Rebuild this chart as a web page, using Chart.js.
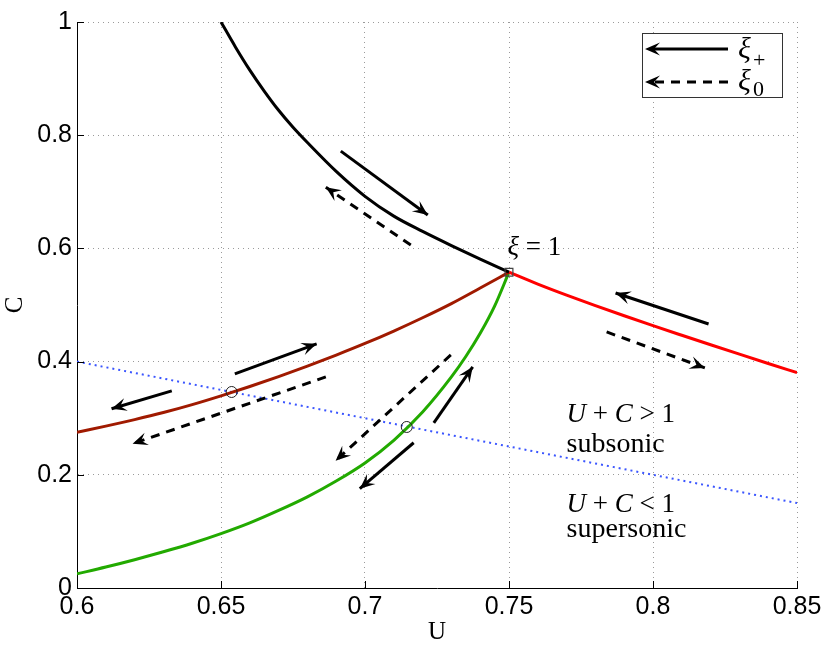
<!DOCTYPE html>
<html lang="en">
<head>
  <meta charset="UTF-8">
  <title>U-C phase plane</title>
  <script src="https://cdn.jsdelivr.net/npm/chart.js"></script>
  <style>
    body { margin: 0; background: #fff; }
    canvas { display: block; }
  </style>
</head>
<body>
  <canvas id="chart" width="830" height="653"></canvas>

  <script>
    // tick values
    const xTicks = [0.6, 0.65, 0.7, 0.75, 0.8, 0.85];
    const yTicks = [0, 0.2, 0.4, 0.6, 0.8, 1];

    // curves
    const blackU = [0.65, 0.655, 0.66, 0.665, 0.67, 0.675, 0.68, 0.69, 0.70, 0.71, 0.72, 0.73, 0.74, 0.75];
    const blackC = [1.0, 0.956, 0.915, 0.878, 0.844, 0.814, 0.787, 0.736, 0.692, 0.657, 0.630, 0.605, 0.581, 0.558];

    const redU = [0.75, 0.76, 0.77, 0.78, 0.79, 0.80, 0.81, 0.82, 0.83, 0.84, 0.85];
    const redC = [0.558, 0.537, 0.5175, 0.499, 0.481, 0.4635, 0.4465, 0.4297, 0.4131, 0.3967, 0.3805];

    const brownU = [0.6, 0.61, 0.62, 0.63, 0.64, 0.65, 0.66, 0.67, 0.68, 0.69, 0.70, 0.71, 0.72, 0.73, 0.74, 0.75];
    const brownC = [0.275, 0.286, 0.2975, 0.310, 0.324, 0.3395, 0.356, 0.3735, 0.392, 0.4115, 0.432, 0.454, 0.4775, 0.5025, 0.530, 0.558];

    const greenU = [0.6, 0.61, 0.62, 0.63, 0.64, 0.65, 0.66, 0.67, 0.68, 0.69, 0.70, 0.71, 0.72, 0.73, 0.735, 0.74, 0.745, 0.75];
    const greenC = [0.025, 0.037, 0.050, 0.064, 0.079, 0.096, 0.115, 0.137, 0.161, 0.189, 0.221, 0.261, 0.311, 0.373, 0.409, 0.450, 0.498, 0.558];

    // sonic line U + C = 1
    const sonicU = [0.6, 0.85];
    const sonicC = [0.4, 0.15];

    // arrows: [tail, head] in (U, C)
    const solidArrows = [
      [[0.6916, 0.7718], [0.7218, 0.659]],
      [[0.8193, 0.4665], [0.7870, 0.5212]],
      [[0.6548, 0.3784], [0.6832, 0.4314]],
      [[0.6329, 0.3483], [0.6120, 0.3166]],
      [[0.7239, 0.2919], [0.7374, 0.3907]],
      [[0.7169, 0.2566], [0.6982, 0.1754]]
    ];
    const dashedArrows = [
      [[0.7159, 0.606], [0.6864, 0.708]],
      [[0.7839, 0.4524], [0.8180, 0.3889]],
      [[0.6864, 0.3730], [0.6193, 0.2548]],
      [[0.7298, 0.4118], [0.6898, 0.2248]]
    ];

    // markers
    const sonicPoints = [[0.6537, 0.3463], [0.7145, 0.2845]];
    const criticalPoint = [[0.75, 0.558]];

    const toXY = (us, cs) => us.map((u, i) => ({ x: u, y: cs[i] }));

    function curve(us, cs, color, order) {
      return {
        type: 'line', data: toXY(us, cs), borderColor: color, borderWidth: 3,
        pointRadius: 0, cubicInterpolationMode: 'monotone', fill: false, order: order
      };
    }

    const datasets = [
      {
        type: 'line', data: toXY(sonicU, sonicC), borderColor: '#3a55ff', borderWidth: 2,
        borderDash: [2, 4], pointRadius: 0, fill: false, order: 9
      },
      curve(blackU, blackC, '#000000', 5),
      curve(redU, redC, '#ff0000', 5),
      curve(brownU, brownC, '#a01a00', 5),
      curve(greenU, greenC, '#22aa00', 5)
    ];

    solidArrows.forEach(a => datasets.push({
      type: 'line', data: a.map(p => ({ x: p[0], y: p[1] })), borderColor: '#000', borderWidth: 3,
      pointRadius: 0, fill: false, order: 3, arrow: true, borderCapStyle: 'butt'
    }));
    dashedArrows.forEach(a => datasets.push({
      type: 'line', data: a.map(p => ({ x: p[0], y: p[1] })), borderColor: '#000', borderWidth: 3,
      borderDash: [9, 7], pointRadius: 0, fill: false, order: 3, arrow: true, borderCapStyle: 'butt'
    }));

    datasets.push({
      type: 'scatter', data: sonicPoints.map(p => ({ x: p[0], y: p[1] })), pointStyle: 'circle',
      pointRadius: 5.5, borderColor: '#222', borderWidth: 1, backgroundColor: 'rgba(0,0,0,0)', order: 1
    });
    datasets.push({
      type: 'scatter', data: criticalPoint.map(p => ({ x: p[0], y: p[1] })), pointStyle: 'rect',
      pointRadius: 5.5, borderColor: '#444', borderWidth: 1.2, backgroundColor: 'rgba(0,0,0,0)', order: 1
    });

    const serif = '"Liberation Serif", "DejaVu Serif", serif';

    // draw a run of text pieces, italic where asked
    function drawRuns(ctx, runs, x, y, size) {
      let cx = x;
      runs.forEach(r => {
        ctx.font = (r.it ? 'italic ' : '') + size + 'px ' + serif;
        ctx.fillText(r.t, cx, y);
        cx += ctx.measureText(r.t).width;
      });
      return cx;
    }

    const decorations = {
      id: 'decorations',
      afterDatasetsDraw(chart) {
        const ctx = chart.ctx;
        const xs = chart.scales.x, ys = chart.scales.y;
        const area = chart.chartArea;

        // arrow heads at the end of each arrow dataset
        chart.data.datasets.forEach(ds => {
          if (!ds.arrow) return;
          const t = ds.data[0], h = ds.data[1];
          const tx = xs.getPixelForValue(t.x), ty = ys.getPixelForValue(t.y);
          const hx = xs.getPixelForValue(h.x), hy = ys.getPixelForValue(h.y);
          const len = Math.hypot(hx - tx, hy - ty);
          const dx = (hx - tx) / len, dy = (hy - ty) / len;
          const nx = -dy, ny = dx;
          const L = 15, W = 6.5;
          ctx.save();
          ctx.fillStyle = '#000';
          ctx.beginPath();
          ctx.moveTo(hx, hy);
          ctx.lineTo(hx - L * dx + W * nx, hy - L * dy + W * ny);
          ctx.lineTo(hx - 0.6 * L * dx, hy - 0.6 * L * dy);
          ctx.lineTo(hx - L * dx - W * nx, hy - L * dy - W * ny);
          ctx.closePath();
          ctx.fill();
          ctx.restore();
        });

        // inner tick marks
        ctx.save();
        ctx.strokeStyle = '#000';
        ctx.lineWidth = 1;
        ctx.beginPath();
        xTicks.forEach(v => {
          const px = Math.round(xs.getPixelForValue(v)) + 0.5;
          ctx.moveTo(px, area.bottom);
          ctx.lineTo(px, area.bottom - 7);
        });
        yTicks.forEach(v => {
          const py = Math.round(ys.getPixelForValue(v)) + 0.5;
          ctx.moveTo(area.left, py);
          ctx.lineTo(area.left + 7, py);
        });
        ctx.stroke();

        // text annotations
        ctx.fillStyle = '#000';
        ctx.textBaseline = 'alphabetic';
        ctx.textAlign = 'left';
        let px = xs.getPixelForValue(0.7495), py = ys.getPixelForValue(0.588);
        drawRuns(ctx, [{ t: 'ξ', it: true }, { t: ' = 1' }], px, py, 27);

        px = xs.getPixelForValue(0.77);
        drawRuns(ctx, [{ t: 'U', it: true }, { t: ' + ' }, { t: 'C', it: true }, { t: ' > 1' }], px, ys.getPixelForValue(0.294), 27);
        drawRuns(ctx, [{ t: 'subsonic' }], px, ys.getPixelForValue(0.241), 28);
        drawRuns(ctx, [{ t: 'U', it: true }, { t: ' + ' }, { t: 'C', it: true }, { t: ' < 1' }], px, ys.getPixelForValue(0.135), 27);
        drawRuns(ctx, [{ t: 'supersonic' }], px, ys.getPixelForValue(0.09), 28);

        // legend box
        const bx = area.right - 155, by = area.top + 11, bw = 140, bh = 64;
        ctx.fillStyle = '#fff';
        ctx.fillRect(bx, by, bw, bh);
        ctx.strokeStyle = '#333';
        ctx.lineWidth = 1;
        ctx.strokeRect(bx + 0.5, by + 0.5, bw, bh);

        function legendArrow(y, dashed) {
          const x0 = bx + 86, x1 = bx + 3;
          ctx.save();
          ctx.strokeStyle = '#000';
          ctx.lineWidth = 3;
          if (dashed) ctx.setLineDash([9, 7]);
          ctx.beginPath();
          ctx.moveTo(x0, y);
          ctx.lineTo(x1 + 8, y);
          ctx.stroke();
          ctx.setLineDash([]);
          ctx.fillStyle = '#000';
          ctx.beginPath();
          ctx.moveTo(x1, y);
          ctx.lineTo(x1 + 15, y - 6.5);
          ctx.lineTo(x1 + 9, y);
          ctx.lineTo(x1 + 15, y + 6.5);
          ctx.closePath();
          ctx.fill();
          ctx.restore();
        }
        legendArrow(by + 16, false);
        legendArrow(by + 49, true);

        ctx.fillStyle = '#000';
        ctx.font = 'italic 30px ' + serif;
        ctx.fillText('ξ', bx + 96, by + 25);
        ctx.fillText('ξ', bx + 96, by + 57);
        ctx.font = '22px ' + serif;
        ctx.fillText('+', bx + 111, by + 34);
        ctx.fillText('0', bx + 111, by + 63);
        ctx.restore();
      }
    };

    const sans = '"Liberation Sans", Arial, sans-serif';

    new Chart(document.getElementById('chart'), {
      data: { datasets: datasets },
      options: {
        responsive: false,
        animation: false,
        layout: { padding: { top: 22, right: 33, left: 0, bottom: 0 } },
        plugins: { legend: { display: false }, tooltip: { enabled: false } },
        scales: {
          x: {
            type: 'linear', min: 0.6, max: 0.85,
            afterBuildTicks: s => { s.ticks = xTicks.map(v => ({ value: v })); },
            afterFit: s => { s.height = 65; },
            ticks: { font: { family: sans, size: 25 }, color: '#000', padding: 4, callback: v => String(v) },
            grid: { drawTicks: false, color: '#9a9a9a', lineWidth: 1 },
            border: { display: true, color: '#000', width: 1, dash: [1, 4] },
            title: { display: true, text: 'U', font: { family: serif, size: 25 }, color: '#000', padding: { top: 0, bottom: 6 } }
          },
          y: {
            type: 'linear', min: 0, max: 1,
            afterBuildTicks: s => { s.ticks = yTicks.map(v => ({ value: v })); },
            afterFit: s => { s.width = 77; },
            ticks: { font: { family: sans, size: 25 }, color: '#000', padding: 5, callback: v => String(v) },
            grid: { drawTicks: false, color: '#9a9a9a', lineWidth: 1 },
            border: { display: true, color: '#000', width: 1, dash: [1, 4] },
            title: { display: true, text: 'C', font: { family: serif, size: 25 }, color: '#000', padding: 0 }
          }
        }
      },
      plugins: [decorations]
    });
  </script>
</body>
</html>
